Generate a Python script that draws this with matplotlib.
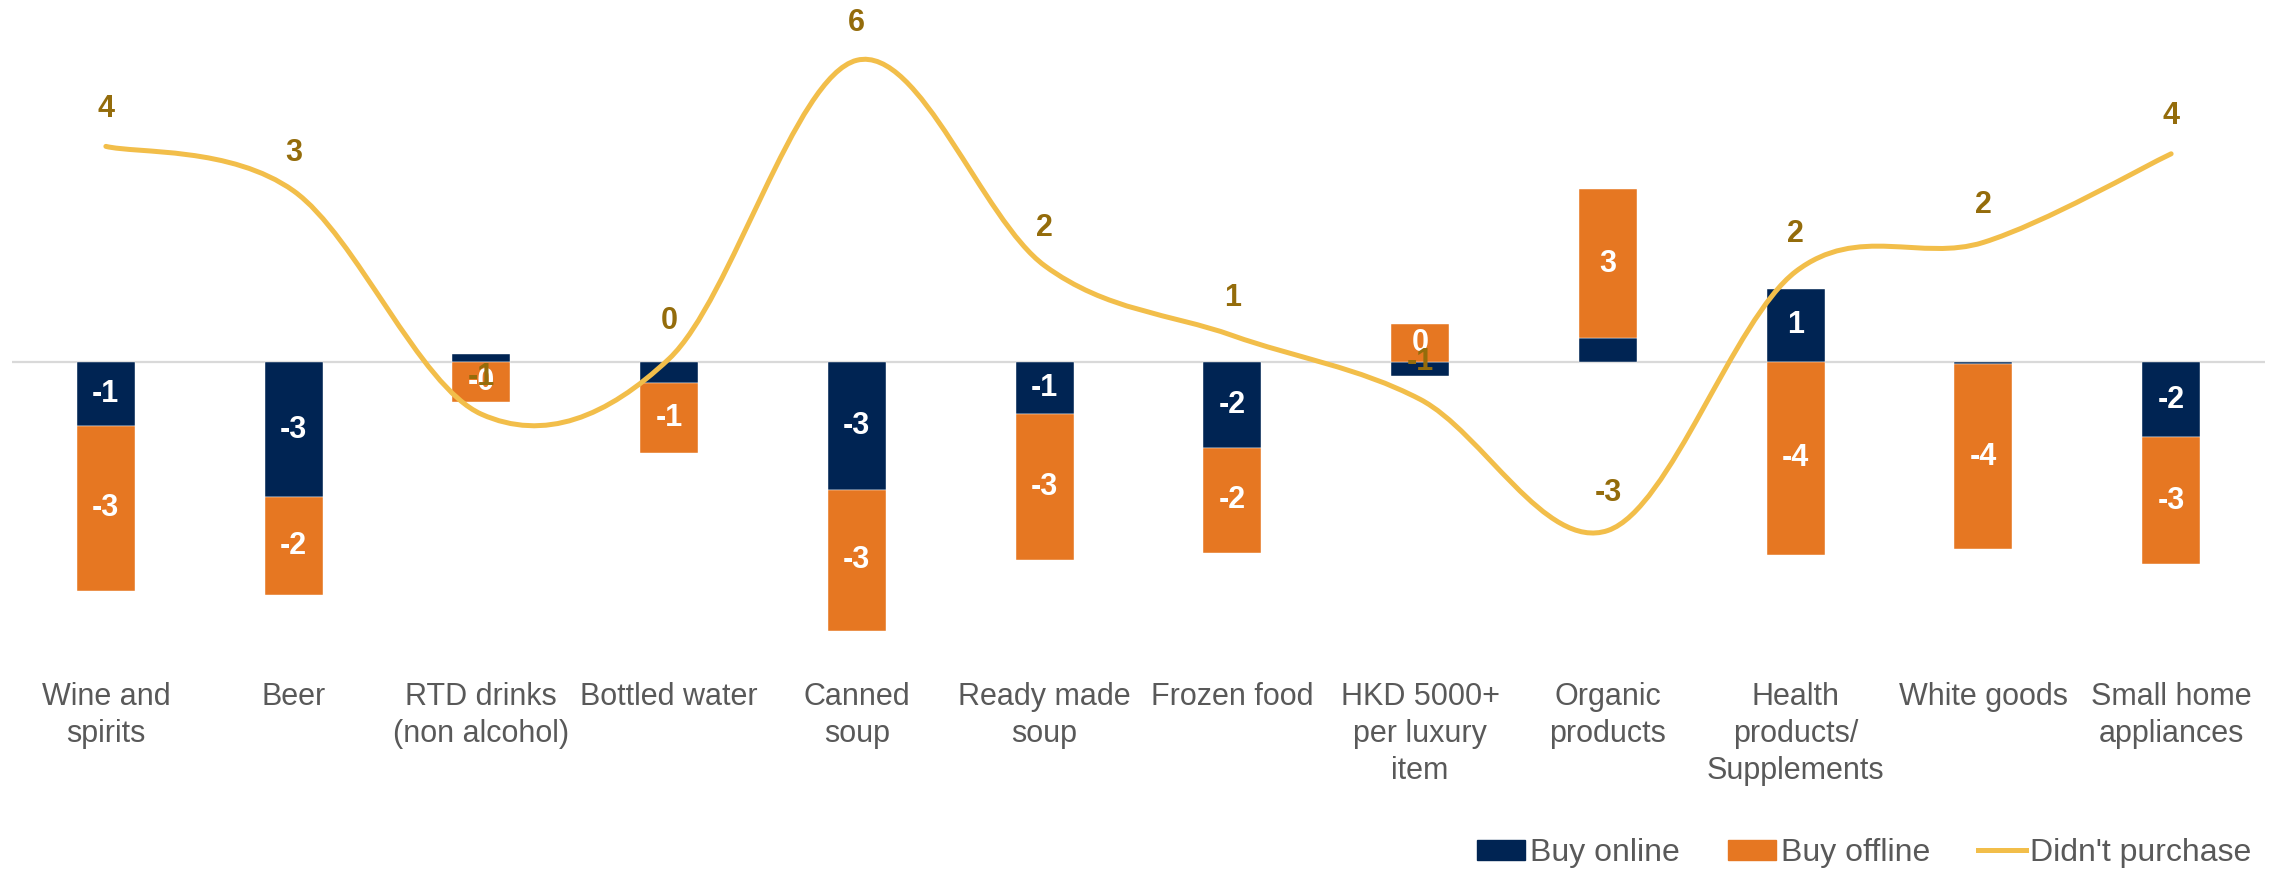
import numpy as np
import matplotlib.pyplot as plt
from matplotlib.path import Path
from matplotlib.patches import PathPatch, Patch
from matplotlib.lines import Line2D

categories = ["Wine and\nspirits", "Beer", "RTD drinks\n(non alcohol)", "Bottled water",
              "Canned\nsoup", "Ready made\nsoup", "Frozen food", "HKD 5000+\nper luxury\nitem",
              "Organic\nproducts", "Health\nproducts/\nSupplements", "White goods",
              "Small home\nappliances"]
buy_online = [-1.29, -2.74, 0.15, -0.44, -2.59, -1.06, -1.74, -0.29, 0.48, 1.47, -0.05, -1.53]
buy_offline = [-3.35, -1.97, -0.82, -1.41, -2.85, -2.94, -2.12, 0.76, 3.0, -3.91, -3.74, -2.56]
didnt_purchase = [4.35, 3.45, -1.06, 0.06, 6.09, 1.94, 0.53, -0.76, -3.41, 1.82, 2.41, 4.2]

# data labels as printed on the chart (tiny segments have hidden labels)
online_labels = ["-1", "-3", "", "", "-3", "-1", "-2", "", "", "1", "", "-2"]
offline_labels = ["-3", "-2", "-0", "-1", "-3", "-3", "-2", "0", "3", "-4", "-4", "-3"]
line_labels = ["4", "3", "-1", "0", "6", "2", "1", "-1", "-3", "2", "2", "4"]

NAVY = "#002453"
ORANGE = "#E67722"
GOLD = "#F2BE4A"
OLIVE = "#946C0B"
GREY = "#595959"

plt.rcParams['font.family'] = ['Liberation Sans', 'DejaVu Sans']

fig = plt.figure(figsize=(22.85, 8.69), dpi=100)
ax = fig.add_axes([0.00525, 0.242, 0.986, 0.7405])

x = np.arange(len(categories))
online = np.array(buy_online)
offline = np.array(buy_offline)
bottom = np.where(np.sign(online) == np.sign(offline), online, 0)

w = 0.31
ax.axhline(0, color="#D9D9D9", lw=1.6, zorder=1)
ax.bar(x, online, w, color=NAVY, edgecolor="white", linewidth=0.3, zorder=2)
ax.bar(x, offline, w, bottom=bottom, color=ORANGE, edgecolor="white", linewidth=0.3, zorder=2)

for i in range(len(x)):
    ax.text(x[i], online[i] / 2, online_labels[i], ha="center", va="center",
            color="white", fontsize=22, fontweight="bold", zorder=3)
    ax.text(x[i], bottom[i] + offline[i] / 2, offline_labels[i], ha="center", va="center",
            color="white", fontsize=22, fontweight="bold", zorder=3)

# smoothed line (Excel style bezier through the points)
pts = np.column_stack([x, didnt_purchase]).astype(float)
verts = [pts[0]]
codes = [Path.MOVETO]
n = len(pts)
for i in range(n - 1):
    p0 = pts[max(i - 1, 0)]
    p1 = pts[i]
    p2 = pts[i + 1]
    p3 = pts[min(i + 2, n - 1)]
    verts += [p1 + (p2 - p0) / 6, p2 - (p3 - p1) / 6, p2]
    codes += [Path.CURVE4] * 3
ax.add_patch(PathPatch(Path(verts, codes), facecolor="none", edgecolor=GOLD,
                       lw=3.6, capstyle="round", zorder=4))

for i, v in enumerate(didnt_purchase):
    ax.annotate(line_labels[i], (x[i], v), xytext=(0, 27), textcoords="offset points",
                ha="center", va="center", color=OLIVE, fontsize=22, fontweight="bold", zorder=5)

ax.set_xlim(-0.5, len(categories) - 0.5)
ax.set_ylim(-6, 7)
ax.set_xticks(x)
ax.set_xticklabels(categories, fontsize=22, color=GREY, linespacing=1.3, va="top")
ax.tick_params(axis="x", length=0, pad=17)
ax.set_yticks([])
for s in ax.spines.values():
    s.set_visible(False)

handles = [Patch(color=NAVY, label="Buy online"),
           Patch(color=ORANGE, label="Buy offline"),
           Line2D([0], [0], color=GOLD, lw=3.6, label="Didn't purchase")]
fig.legend(handles=handles, loc="lower right", bbox_to_anchor=(0.998, -0.032), ncol=3,
           frameon=False, fontsize=23, labelcolor=GREY, handlelength=1.5,
           handleheight=0.6, handletextpad=0.15, columnspacing=1.5)

fig.savefig("out.png", dpi=100)
